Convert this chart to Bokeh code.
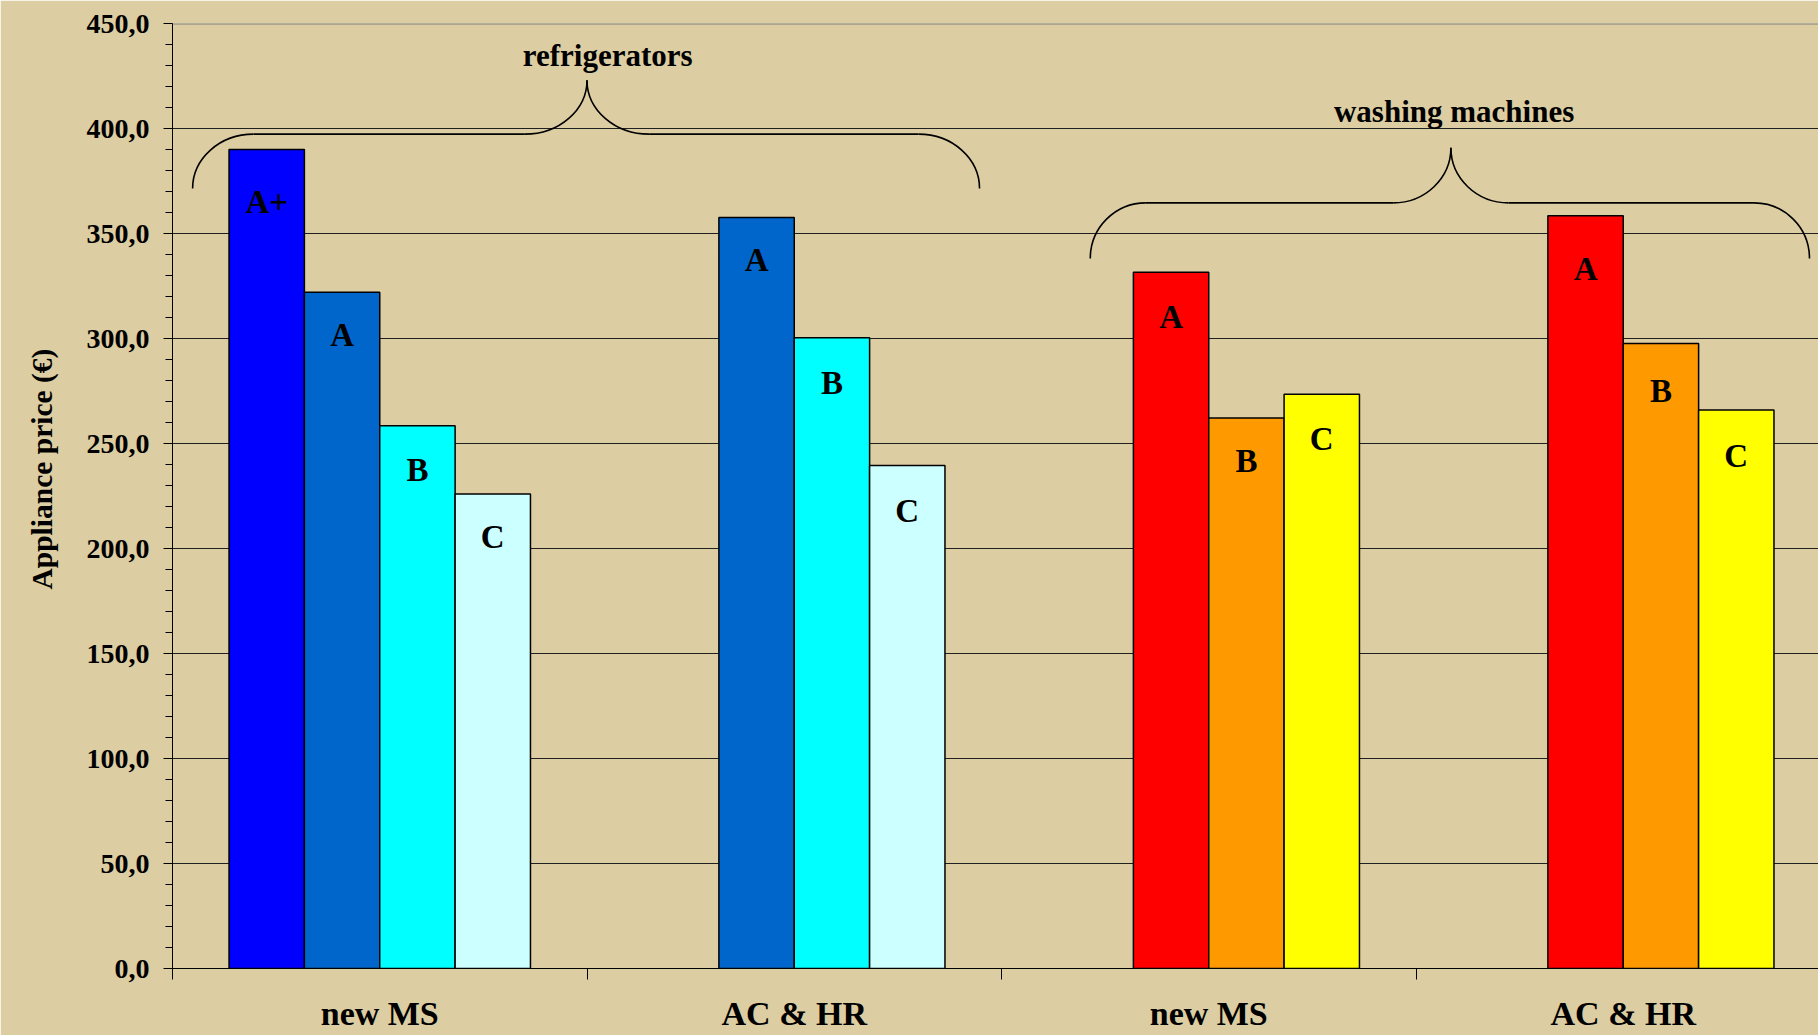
from bokeh.plotting import figure
from bokeh.models import (ColumnDataSource, SingleIntervalTicker, FixedTicker, LabelSet, Title,
                          Range1d, Span, CustomJSTickFormatter)
from bokeh.embed import file_html
from bokeh.resources import INLINE

# ---------------- data ----------------
categories = ["new MS", "AC & HR", "new MS", "AC & HR"]
series = ["A+", "A", "B", "C"]
fridge_new_ms = [390.0, 322.0, 258.4, 225.9]
fridge_ac_hr = [None, 357.6, 300.3, 239.5]
wash_new_ms = [None, 331.6, 262.2, 273.5]
wash_ac_hr = [None, 358.4, 297.6, 265.9]
group_names = ["refrigerators", "washing machines"]
y_label = "Appliance price (€)"

# ---------------- styles ----------------
BG = "#DCCDA2"
fridge_colors = ["#0000FF", "#0066CC", "#00FFFF", "#CCFFFF"]
wash_colors = [None, "#FF0000", "#FF9900", "#FFFF00"]
label_dy = [[63, 54, 55, 54], [None, 53, 56, 56], [None, 56, 54, 56], [None, 64, 58, 57]]
FONT = "Liberation Serif"
bar_w = 0.1818

cat_values = [fridge_new_ms, fridge_ac_hr, wash_new_ms, wash_ac_hr]
cat_colors = [fridge_colors, fridge_colors, wash_colors, wash_colors]

xs, tops, cols, labs, dys = [], [], [], [], []
for i, vals in enumerate(cat_values):
    for j, v in enumerate(vals):
        if v is None:
            continue
        xs.append(i + 0.5 + (j - 1.5) * bar_w)
        tops.append(v)
        cols.append(cat_colors[i][j])
        labs.append(series[j])
        dys.append(-label_dy[i][j])
bars = ColumnDataSource(dict(x=xs, top=tops, color=cols, label=labs, dy=dys))

p = figure(width=1818, height=1035, output_backend="svg", toolbar_location=None,
           x_range=Range1d(0, (1818 - 172) / 414.5), y_range=Range1d(0, 450),
           min_border_left=172, min_border_right=0, min_border_top=23, min_border_bottom=67)
p.background_fill_color = BG
p.border_fill_color = BG
p.outline_line_color = None

p.vbar(x="x", top="top", width=bar_w, bottom=0, source=bars, fill_color="color",
       line_color="black", line_width=1.5)

p.add_layout(LabelSet(x="x", y="top", text="label", source=bars, y_offset="dy",
                      text_align="center", text_baseline="alphabetic",
                      text_font=FONT, text_font_style="bold", text_font_size="33px",
                      text_color="black"))

# braces
K = 0.5523
def brace(xl, xp, xr, ye, yt, yp, rc, rm):
    b = dict(x0=[], y0=[], x1=[], y1=[], cx0=[], cy0=[], cx1=[], cy1=[])
    def add(x0, y0, cx0, cy0, cx1, cy1, x1, y1):
        for k, v in zip(["x0", "y0", "cx0", "cy0", "cx1", "cy1", "x1", "y1"],
                        [x0, y0, cx0, cy0, cx1, cy1, x1, y1]):
            b[k].append(v)
    add(xl, ye, xl, ye + K * (yt - ye), xl + rc * (1 - K), yt, xl + rc, yt)
    add(xl + rc, yt, xl + rc, yt, xp - rm, yt, xp - rm, yt)
    add(xp - rm, yt, xp - rm + K * rm, yt, xp, yp - K * (yp - yt), xp, yp)
    add(xp, yp, xp, yp - K * (yp - yt), xp + rm * (1 - K), yt, xp + rm, yt)
    add(xp + rm, yt, xp + rm, yt, xr - rc, yt, xr - rc, yt)
    add(xr - rc, yt, xr - rc + K * rc, yt, xr, ye + K * (yt - ye), xr, ye)
    return b

for args in [(0.0485, 1.0, 1.947, 371.4, 397.3, 423.0, 0.147, 0.150),
             (2.2142, 3.0842, 3.9493, 338.1, 364.6, 390.8, 0.134, 0.139)]:
    p.bezier(source=ColumnDataSource(brace(*args)), x0="x0", y0="y0", x1="x1", y1="y1",
             cx0="cx0", cy0="cy0", cx1="cx1", cy1="cy1", line_color="black", line_width=1.6)

grp_src = ColumnDataSource(dict(x=[1.05, 3.092], y=[434.9, 407.9], text=group_names))
p.add_layout(LabelSet(x="x", y="y", text="text", source=grp_src,
                      text_align="center", text_baseline="middle",
                      text_font=FONT, text_font_style="bold", text_font_size="31px",
                      text_color="black"))

# axes / grid
p.xgrid.grid_line_color = None
p.ygrid.grid_line_color = "#202020"
p.ygrid.grid_line_width = 1
p.ygrid.ticker = SingleIntervalTicker(interval=50)
p.add_layout(Span(location=450, dimension="width", line_color="#808080", line_width=2))

p.yaxis.ticker = SingleIntervalTicker(interval=50, num_minor_ticks=5)
p.yaxis.formatter = CustomJSTickFormatter(code="return tick.toFixed(1).replace('.', ',');")
p.yaxis.major_label_text_font = FONT
p.yaxis.major_label_text_font_style = "bold"
p.yaxis.major_label_text_font_size = "28px"
p.yaxis.major_label_text_color = "black"
p.yaxis.major_label_standoff = 14
p.yaxis.major_tick_out = 9
p.yaxis.major_tick_in = 0
p.yaxis.minor_tick_out = 7
p.yaxis.minor_tick_in = 0
p.yaxis.axis_line_color = "black"
p.yaxis.major_tick_line_color = "black"
p.yaxis.minor_tick_line_color = "black"

# y-axis title as a side title, so it can sit off-centre like the reference
p.add_layout(Title(text=y_label, align="left", vertical_align="top", offset=379, standoff=48,
                   text_font=FONT, text_font_style="bold", text_font_size="29.5px",
                   text_color="black"), "left")

# x axis: category names at group centres, boundary ticks as minor ticks
p.xaxis.ticker = FixedTicker(ticks=[i + 0.5 for i in range(len(categories))],
                             minor_ticks=list(range(len(categories) + 1)))
p.xaxis.formatter = CustomJSTickFormatter(args=dict(names=categories),
                                          code="return names[Math.floor(tick)];")
p.xaxis.major_tick_out = 0
p.xaxis.major_tick_in = 0
p.xaxis.minor_tick_out = 11
p.xaxis.minor_tick_in = 0
p.xaxis.axis_line_color = "black"
p.xaxis.minor_tick_line_color = "black"
p.xaxis.major_label_text_font = FONT
p.xaxis.major_label_text_font_style = "bold"
p.xaxis.major_label_text_font_size = "34px"
p.xaxis.major_label_text_color = "black"
p.xaxis.major_label_standoff = 15

open("out.html", "w").write(file_html(p, INLINE))
